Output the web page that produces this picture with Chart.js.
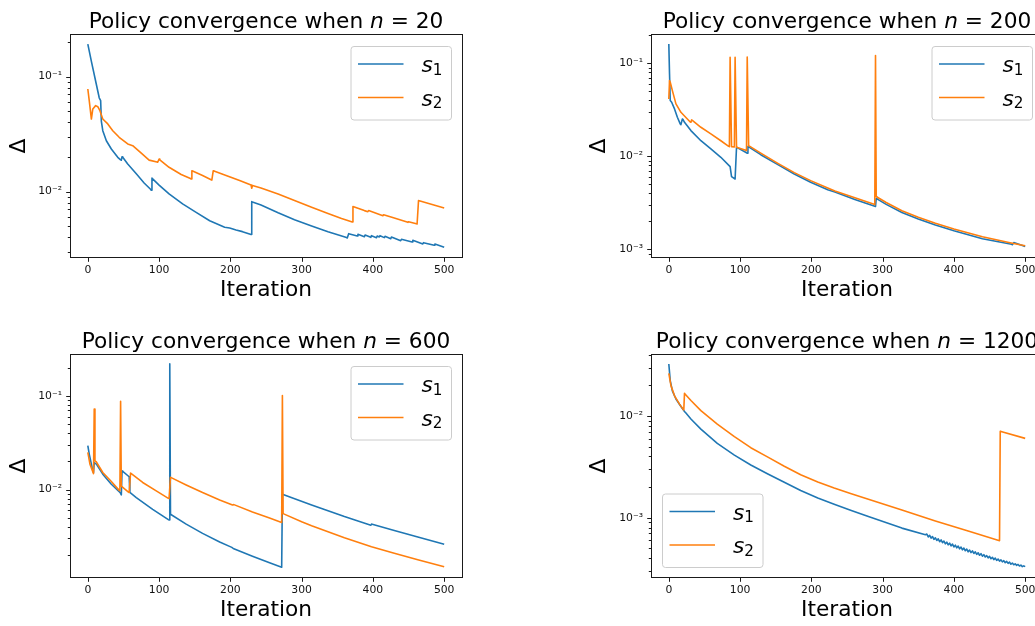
<!DOCTYPE html>
<html>
<head>
<meta charset="utf-8">
<script src="https://cdn.jsdelivr.net/npm/chart.js@4.4.1/dist/chart.umd.min.js"></script>
<style>
  html, body { margin: 0; padding: 0; background: #fff; overflow: hidden; width: 1035px; height: 626px; }
  canvas { position: absolute; }
</style>
</head>
<body>
<canvas id="p20" width="560" height="313" style="left:0px;top:0px"></canvas>
<canvas id="p200" width="500" height="313" style="left:560px;top:0px"></canvas>
<canvas id="p600" width="560" height="313" style="left:0px;top:320px"></canvas>
<canvas id="p1200" width="500" height="313" style="left:560px;top:320px"></canvas>
<script>
// ---- tick labels, names ----
const xTickValues = [0, 100, 200, 300, 400, 500];
const decadeValues = [1e-3, 1e-2, 1e-1];
const decadeLabels = ['10⁻³', '10⁻²', '10⁻¹'];
const nValues = [20, 200, 600, 1200];
const titleText = 'Policy convergence when ';
const titleVar = 'n';
const seriesSymbol = ['s', 's'];
const seriesIndex = ['1', '2'];

// ---- policy gap Δ per iteration: [iteration, Δ] ----
const n20S1 = [[0,0.192],[5,0.136],[12,0.0855],[16,0.0655],[18,0.062],[19,0.0409],[21,0.0339],[26,0.0277],[33,0.0235],[42,0.0199],
  [46,0.0189],[47,0.0188],[48,0.0201],[49,0.0199],[56,0.0174],[68,0.0143],[79,0.0119],[88,0.0105],[89,0.0103],[90,0.0131],
  [91,0.0129],[100,0.0114],[114,0.00955],[133,0.00782],[152,0.00661],[171,0.00559],[192,0.0049],[199,0.00483],[208,0.00464],[217,0.00449],
  [228,0.00426],[229,0.00424],[230,0.00819],[231,0.00813],[243,0.00766],[267,0.00655],[290,0.0057],[314,0.00503],[337,0.00448],[363,0.00399],
  [364,0.003955],[366,0.004313],[378,0.004115],[379,0.004256],[388,0.004061],[389,0.004199],[397,0.004008],[398,0.004143],[405,0.003981],[406,0.004115],
  [409,0.004034],[410,0.004143],[416,0.003981],[417,0.004089],[425,0.003903],[426,0.004034],[439,0.00375],[440,0.003852],[455,0.003651],[456,0.003775],
  [470,0.003507],[471,0.003601],[486,0.003414],[487,0.003507],[500,0.00328]];
const n20S2 = [[0,0.0781],[2,0.0618],[5,0.0428],[7,0.0524],[11,0.056],[14,0.0548],[17,0.0506],[21,0.0428],[28,0.0388],[35,0.0339],
  [44,0.0297],[56,0.026],[63,0.0251],[75,0.0216],[86,0.0188],[97,0.0181],[98,0.018],[100,0.0192],[101,0.0189],[114,0.0163],
  [131,0.0141],[144,0.013],[145,0.0129],[146,0.0152],[147,0.0151],[161,0.0138],[173,0.0127],[174,0.0126],[176,0.0152],[177,0.0151],
  [194,0.0138],[213,0.0125],[229,0.0114],[230,0.0107],[231,0.0113],[243,0.01076],[267,0.00955],[290,0.00836],[314,0.00731],[337,0.00645],
  [356,0.00585],[370,0.00548],[371,0.00545],[372,0.00741],[373,0.00738],[388,0.00684],[393,0.0067],[394,0.00684],[414,0.00618],[415,0.0063],
  [430,0.0059],[449,0.00541],[450,0.00548],[461,0.00525],[462,0.00523],[464,0.00836],[465,0.00833],[500,0.00721]];

const n200S1 = [[0,0.161],[1,0.0767],[2,0.0397],[4,0.0381],[8,0.0323],[12,0.0263],[16,0.0223],[17,0.0219],[19,0.0252],[20,0.0248],
  [22,0.0232],[31,0.0189],[45,0.0147],[59,0.012],[73,0.00975],[86,0.00774],[88,0.00604],[93,0.0057],[95,0.0125],[96,0.0124],
  [109,0.0109],[110,0.0108],[111,0.0127],[112,0.0126],[129,0.0104],[153,0.00813],[176,0.00645],[199,0.00525],[223,0.00437],[233,0.00412],
  [261,0.00343],[289,0.0029],[290,0.00288],[291,0.00351],[292,0.00348],[305,0.00304],[327,0.00249],[350,0.00212],[374,0.00182],[400,0.00158],
  [440,0.0013],[481,0.00113],[482,0.00112],[484,0.00118],[500,0.00107]];
const n200S2 = [[0,0.0413],[1,0.0651],[2,0.0625],[5,0.0508],[10,0.0366],[17,0.0297],[26,0.0252],[30,0.0234],[31,0.0232],[32,0.0246],
  [33,0.0243],[45,0.0205],[59,0.0174],[73,0.0147],[84,0.0128],[85,0.0127],[86,0.116],[87,0.116],[88,0.0127],[92,0.0126],
  [93,0.116],[94,0.116],[95,0.0125],[108,0.0116],[109,0.0115],[110,0.117],[111,0.117],[112,0.013],[129,0.0108],[153,0.0084],
  [176,0.00667],[199,0.00547],[223,0.00456],[233,0.00424],[261,0.00359],[288,0.00304],[289,0.00302],[290,0.121],[291,0.00368],[292,0.00365],
  [305,0.00318],[327,0.0026],[350,0.00221],[374,0.0019],[400,0.00165],[440,0.00136],[482,0.00116],[500,0.00109]];

const n600S1 = [[0,0.0294],[2,0.0239],[6,0.0172],[8,0.0152],[9,0.0194],[12,0.0187],[21,0.0146],[33,0.0114],[44,0.00952],[46,0.0091],
  [47,0.00877],[48,0.0158],[49,0.0156],[58,0.0137],[59,0.0093],[68,0.0082],[91,0.00615],[113,0.00477],[114,0.00473],[115,0.22],
  [116,0.00544],[138,0.00427],[161,0.0034],[185,0.00275],[202,0.00241],[204,0.00235],[231,0.00194],[255,0.00165],[271,0.00149],[272,0.00148],
  [273,0.0089],[274,0.00885],[314,0.00685],[360,0.00514],[396,0.00417],[397,0.00415],[398,0.00428],[399,0.00426],[430,0.00366],[463,0.00311],
  [500,0.0026]];
const n600S2 = [[0,0.0249],[3,0.0187],[8,0.0148],[9,0.0726],[10,0.0203],[12,0.0197],[21,0.0152],[33,0.0122],[44,0.0098],[45,0.0097],
  [46,0.0877],[47,0.0109],[57,0.0094],[58,0.0093],[60,0.015],[61,0.0148],[77,0.0119],[96,0.00968],[113,0.00806],[114,0.00802],
  [116,0.0135],[117,0.0134],[138,0.0112],[161,0.0093],[185,0.00775],[203,0.00685],[205,0.0069],[231,0.00577],[255,0.00497],[271,0.00448],
  [272,0.00445],[273,0.101],[274,0.00553],[300,0.00454],[314,0.00411],[360,0.00305],[398,0.00245],[430,0.00209],[463,0.00178],[500,0.0015]];

const n1200S1 = [[0,0.0325],[2,0.0223],[5,0.0177],[10,0.0147],[17,0.0124],[22,0.0111],[24,0.0107],[31,0.00934],[45,0.00744],[68,0.00538],
  [92,0.00413],[115,0.0033],[139,0.00269],[162,0.00223],[185,0.00185],[209,0.00156],[232,0.00136],[256,0.00118],[280,0.00103],[327,0.00079],
  [360,0.000681],[362,0.00069],[364,0.000647],[366,0.000671],[368,0.00063],[370,0.000653],[372,0.000612],[374,0.000635],[376,0.000597],[378,0.000619],
  [380,0.000581],[382,0.000604],[384,0.000568],[386,0.00059],[388,0.000553],[390,0.000575],[392,0.000541],[394,0.000562],[396,0.000528],[398,0.00055],
  [400,0.000516],[402,0.000537],[404,0.000505],[406,0.000526],[408,0.000494],[410,0.000514],[412,0.000483],[414,0.000502],[416,0.000473],[418,0.000492],
  [420,0.000462],[422,0.000481],[424,0.000454],[426,0.000471],[428,0.000445],[430,0.000461],[432,0.000436],[434,0.000452],[436,0.000427],[438,0.000443],
  [440,0.000418],[442,0.000433],[444,0.000411],[446,0.000424],[448,0.000403],[450,0.000416],[452,0.000395],[454,0.000408],[456,0.000387],[458,0.0004],
  [460,0.00038],[462,0.000392],[464,0.000374],[466,0.000385],[468,0.000368],[470,0.000378],[472,0.000361],[474,0.000372],[476,0.000356],[478,0.000366],
  [480,0.000349],[482,0.000358],[484,0.000345],[486,0.000352],[488,0.00034],[490,0.000347],[492,0.000335],[494,0.000342],[496,0.00033],[498,0.000336],
  [500,0.00033]];
const n1200S2 = [[0,0.0263],[3,0.0199],[8,0.0158],[15,0.0131],[20,0.0117],[21,0.0115],[22,0.0167],[23,0.0164],[31,0.0142],[45,0.0113],
  [68,0.00834],[92,0.00626],[115,0.00488],[139,0.00394],[162,0.00321],[185,0.00265],[209,0.00225],[232,0.00196],[256,0.00172],[280,0.00152],
  [327,0.00119],[374,0.00093],[420,0.00074],[463,0.000598],[464,0.000595],[465,0.00706],[466,0.00703],[500,0.00603]];

// ---- styling ----
const FONT = 'DejaVu Sans';
const BIG = 21.7;
const SMALL = 10.8;
const seriesColors = ['#1f77b4', '#ff7f0e'];

Chart.defaults.font.family = FONT;

function logTicks(min, max) {
  const out = [];
  for (let e = Math.floor(Math.log10(min)); e <= Math.ceil(Math.log10(max)); e++) {
    for (let k = 1; k <= 9; k++) {
      const v = k * Math.pow(10, e);
      if (v >= min && v <= max) out.push({ value: v, major: k === 1 });
    }
  }
  return out;
}

function decadeLabel(v) {
  const i = decadeValues.findIndex(d => Math.abs(d - v) / d < 1e-6);
  return i >= 0 ? decadeLabels[i] : '';
}

// axes frame plus major/minor tick marks
const axesFrame = {
  id: 'axesFrame',
  afterDraw(chart) {
    const { ctx, chartArea: a, scales: { x, y } } = chart;
    ctx.save();
    ctx.strokeStyle = '#1a1a1a';
    ctx.lineWidth = 1;
    ctx.beginPath();
    xTickValues.forEach(v => {
      const px = Math.round(x.getPixelForValue(v)) + 0.5;
      ctx.moveTo(px, a.bottom);
      ctx.lineTo(px, a.bottom + 3.8);
    });
    y.ticks.forEach(t => {
      const py = Math.round(y.getPixelForValue(t.value)) + 0.5;
      ctx.moveTo(a.left, py);
      ctx.lineTo(a.left - (t.major ? 3.8 : 2.2), py);
    });
    ctx.stroke();
    ctx.strokeRect(a.left + 0.5, a.top + 0.5, a.right - a.left, a.bottom - a.top - 1);
    ctx.restore();
  }
};

// title with italic variable
const mathTitle = {
  id: 'mathTitle',
  afterDraw(chart, args, opts) {
    const { ctx, chartArea: a } = chart;
    const pieces = [
      { t: titleText, f: `${BIG}px "${FONT}"` },
      { t: titleVar, f: `italic ${BIG}px "${FONT}"` },
      { t: ' = ' + opts.n, f: `${BIG}px "${FONT}"` }
    ];
    ctx.save();
    let total = 0;
    pieces.forEach(p => { ctx.font = p.f; p.w = ctx.measureText(p.t).width; total += p.w; });
    let x = (a.left + a.right) / 2 - total / 2;
    ctx.fillStyle = '#000';
    ctx.textAlign = 'left';
    ctx.textBaseline = 'alphabetic';
    pieces.forEach(p => { ctx.font = p.f; ctx.fillText(p.t, x, a.top - 6); x += p.w; });
    ctx.restore();
  }
};

// legend box with subscripted series symbols
const mathLegend = {
  id: 'mathLegend',
  afterDraw(chart, args, opts) {
    const { ctx, chartArea: a } = chart;
    const w = 100.5, h = 73.5, gap = 11;
    const bx = opts.corner === 'lowerLeft' ? a.left + gap : a.right - gap - w;
    const by = opts.corner === 'lowerLeft' ? a.bottom - gap - h : a.top + gap + 1;
    ctx.save();
    ctx.beginPath();
    ctx.roundRect(bx + 0.5, by + 0.5, w, h, 3);
    ctx.fillStyle = 'rgba(255,255,255,0.8)';
    ctx.fill();
    ctx.strokeStyle = '#cccccc';
    ctx.lineWidth = 1;
    ctx.stroke();
    chart.data.datasets.forEach((ds, i) => {
      const rowY = by + 18 + i * 33.5;
      ctx.beginPath();
      ctx.strokeStyle = ds.borderColor;
      ctx.lineWidth = 1.6;
      ctx.moveTo(bx + 7.5, rowY);
      ctx.lineTo(bx + 53, rowY);
      ctx.stroke();
      ctx.fillStyle = '#000';
      ctx.textAlign = 'left';
      ctx.textBaseline = 'alphabetic';
      ctx.font = `italic ${BIG}px "${FONT}"`;
      const tx = bx + 71;
      ctx.fillText(seriesSymbol[i], tx, rowY + 8);
      const sw = ctx.measureText(seriesSymbol[i]).width;
      ctx.font = `${(BIG * 0.7).toFixed(2)}px "${FONT}"`;
      ctx.fillText(seriesIndex[i], tx + sw, rowY + 10.5);
    });
    ctx.restore();
  }
};

const panels = [
  { id: 'p20', n: nValues[0], s1: n20S1, s2: n20S2, yLog: [-2.577, -0.629], axisLeft: 70, padRight: 98, yTitlePad: 6.6, corner: 'upperRight' },
  { id: 'p200', n: nValues[1], s1: n200S1, s2: n200S2, yLog: [-3.094, -0.685], axisLeft: 91, padRight: 17, yTitlePad: 26.6, corner: 'upperRight' },
  { id: 'p600', n: nValues[2], s1: n600S1, s2: n600S2, yLog: [-2.945, -0.552], axisLeft: 70, padRight: 98, yTitlePad: 6.6, corner: 'upperRight' },
  { id: 'p1200', n: nValues[3], s1: n1200S1, s2: n1200S2, yLog: [-3.593, -1.39], axisLeft: 91, padRight: 17, yTitlePad: 26.6, corner: 'lowerLeft' }
];

panels.forEach(cfg => {
  new Chart(document.getElementById(cfg.id), {
    type: 'line',
    data: {
      datasets: [cfg.s1, cfg.s2].map((pts, i) => ({
        label: seriesSymbol[i] + seriesIndex[i],
        data: pts.map(([x, y]) => ({ x, y })),
        borderColor: seriesColors[i],
        backgroundColor: seriesColors[i],
        borderWidth: 1.6,
        pointRadius: 0,
        tension: 0,
        fill: false,
        borderJoinStyle: 'round',
        order: 2 - i
      }))
    },
    options: {
      responsive: false,
      animation: false,
      devicePixelRatio: 1,
      events: [],
      layout: { padding: { left: 0, top: 34, right: cfg.padRight, bottom: 5 } },
      plugins: {
        legend: { display: false },
        title: { display: false },
        tooltip: { enabled: false },
        mathTitle: { n: cfg.n },
        mathLegend: { corner: cfg.corner }
      },
      scales: {
        x: {
          type: 'linear',
          min: -25,
          max: 525,
          afterBuildTicks: s => { s.ticks = xTickValues.map(v => ({ value: v })); },
          afterFit: s => { s.height = 50; },
          grid: { display: false, drawTicks: false },
          border: { display: false },
          ticks: { autoSkip: false, maxRotation: 0, padding: 5.4, color: '#111', font: { family: FONT, size: SMALL }, callback: v => String(v) },
          title: { display: true, text: 'Iteration', color: '#000', font: { family: FONT, size: BIG }, padding: { top: 0, bottom: 4.6 } }
        },
        y: {
          type: 'logarithmic',
          min: Math.pow(10, cfg.yLog[0]),
          max: Math.pow(10, cfg.yLog[1]),
          afterBuildTicks: s => { s.ticks = logTicks(s.min, s.max); },
          afterFit: s => { s.width = cfg.axisLeft; },
          grid: { display: false, drawTicks: false },
          border: { display: false },
          ticks: { autoSkip: false, padding: 8, color: '#111', font: { family: FONT, size: SMALL }, callback: v => decadeLabel(v) },
          title: { display: true, text: 'Δ', color: '#000', font: { family: FONT, size: BIG }, padding: { top: cfg.yTitlePad, bottom: 0 } }
        }
      }
    },
    plugins: [axesFrame, mathTitle, mathLegend]
  });
});
</script>
</body>
</html>
